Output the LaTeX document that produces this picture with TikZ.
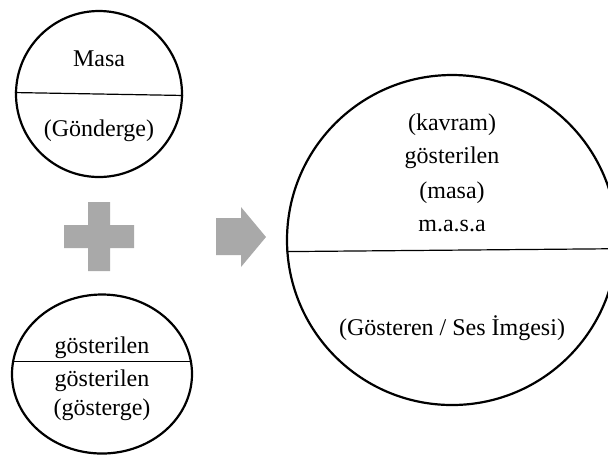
\documentclass[tikz,border=0pt]{standalone}
\usepackage{fontspec}
\setmainfont{Liberation Serif}
\usepackage{xcolor}
\usepackage{tikz}
\usetikzlibrary{positioning, shapes.geometric}
\definecolor{signgray}{HTML}{A9A9A9}

\begin{document}
\begin{tikzpicture}[
  x=0.5pt, y=-0.5pt,
  sign/.style={draw, circle, line width=1.1pt, inner sep=0pt},
  signoval/.style={draw, ellipse, line width=1.1pt, inner sep=0pt},
  divider/.style={line width=0.6pt},
  word/.style={anchor=base, inner sep=0pt, font=\fontsize{12}{14}\selectfont},
  grayfill/.style={fill=signgray, draw=none}
]
\clip (0,0) rectangle (608,457);

\node[sign, minimum size=83pt] (masa) at (99,94) {};
\draw[divider] (masa.179) -- (masa.-1);
\node[word] (masa_txt) at (99,66) {Masa};
\node[word] (gonderge) at (99,136) {(Gönderge)};

\node[signoval, minimum width=90pt, minimum height=79.5pt] (gosterge) at (102,374) {};
\draw[divider] (gosterge.172) -- (gosterge.8);
\node[word] (gl_top) at (102,353) {gösterilen};
\node[word] (gl_mid) at (102,386) {gösterilen};
\node[word] (gosterge_txt) at (102,415) {(gösterge)};

\fill[grayfill] (88,202) -- (110,202) -- (110,225) -- (134,225) -- (134,248) -- (110,248)
  -- (110,271) -- (88,271) -- (88,248) -- (64,248) -- (64,225) -- (88,225) -- cycle;

\fill[grayfill] (216,218) -- (241,218) -- (241,207) -- (266,237) -- (241,267) -- (241,255)
  -- (216,255) -- cycle;

\node[sign, minimum size=165pt] (big) at (452,240) {};
\draw[divider] (big.184) -- (big.-3);
\node[word] (kavram) at (452,130) {(kavram)};
\node[word] (gosterilen) at (452,163) {gösterilen};
\node[word] (masa_par) at (452,198) {(masa)};
\node[word] (harfler) at (452,231) {m.a.s.a};
\node[word] (gosteren) at (452,335) {(Gösteren / Ses İmgesi)};

\end{tikzpicture}
\end{document}
